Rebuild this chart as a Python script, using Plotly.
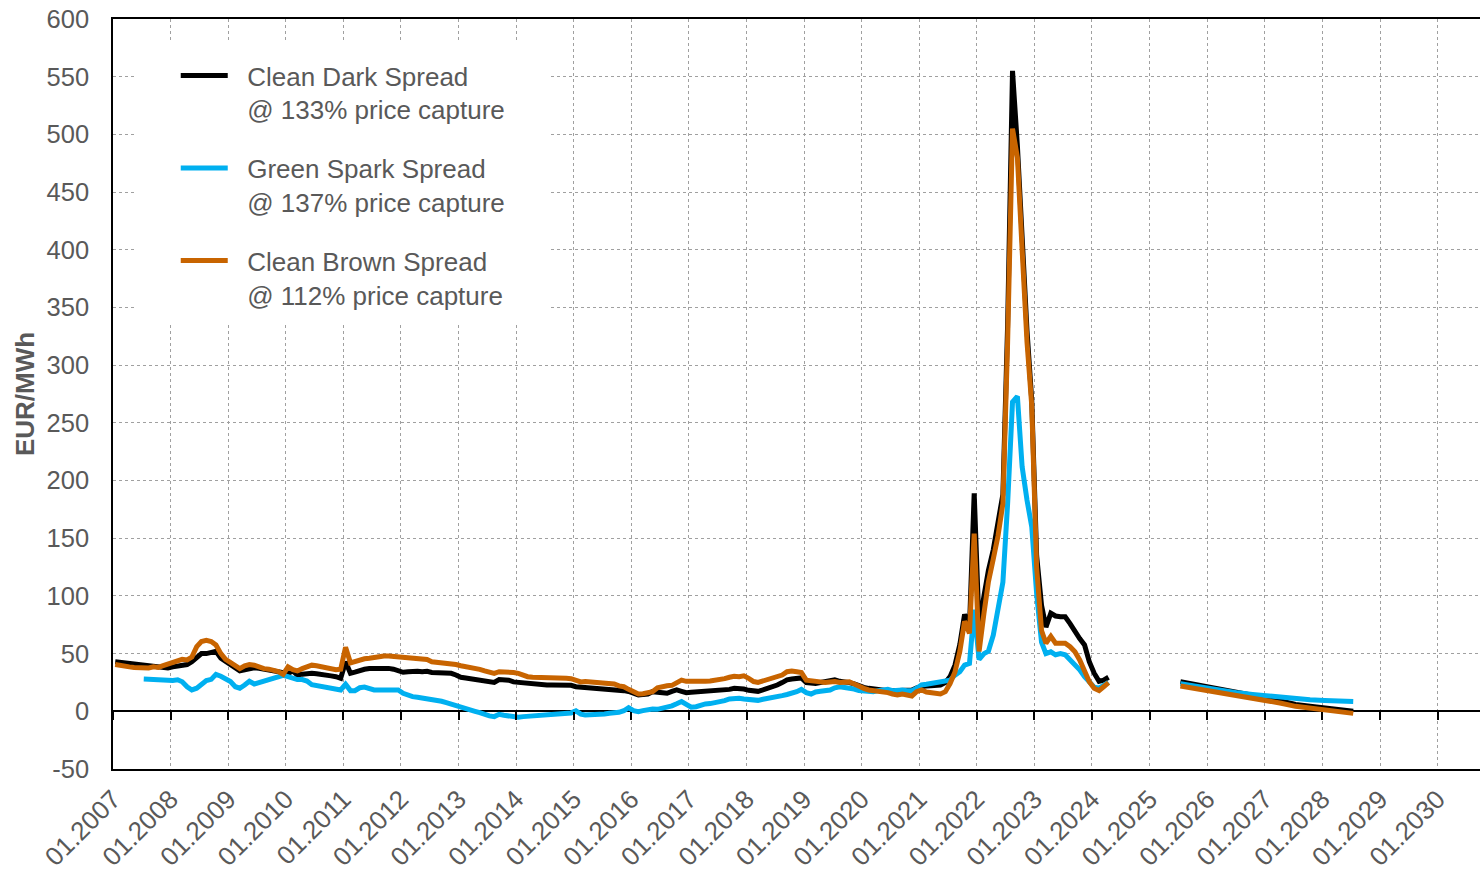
import pandas as pd
import plotly.graph_objects as go

# ---- data -----------------------------------------------------------------
# monthly history Jan 2007 .. Apr 2024 (points plotted mid-month)
hist_months = pd.date_range("2007-01-01", "2024-04-01", freq="MS") + pd.Timedelta(days=14)
# forward curve, quarterly Jul 2025 .. Jul 2028
fwd_quarters = pd.date_range("2025-07-01", "2028-07-01", freq="QS-JAN") + pd.Timedelta(days=14)

dark_hist = [
    43, 42.5, 42.5, 42, 41.5, 41, 40.5, 40, 39, 38, 37.5, 37.5,            # 2007
    38.5, 39, 40, 40.5, 43, 47, 50, 50, 51, 52, 46, 43,                    # 2008
    40, 37, 35, 36, 37.2, 37.7, 37.2, 36.4, 35.8, 35, 34.3, 33.6,          # 2009
    32.9, 35, 31.5, 32.2, 32.9, 32.9, 32.5, 32.2, 31.5, 30.7, 30, 28.6,    # 2010
    43, 33, 34, 35.8, 36.4, 37, 37.2, 37.2, 37.2, 37.2, 36.5, 35,          # 2011
    33.8, 34.3, 35, 34.8, 34.3, 34.6, 33.6, 33.6, 33.6, 33.2, 32.9, 31.5,  # 2012
    29.5, 28.8, 28.2, 27.5, 27, 26.6, 25.8, 25, 27.5, 27.5, 27, 25.5,      # 2013
    25, 24.2, 23.8, 23.5, 23, 22.8, 22.8, 22.8, 22.8, 22.8, 22.8, 22.5,    # 2014
    21.3, 21, 20.7, 20.4, 20.2, 19.9, 19.7, 19.4, 19.3, 18.5, 17.9, 17.2,  # 2015
    15.6, 14.2, 14.6, 15, 17, 16.5, 15.9, 15.6, 17.3, 18.5, 17.3, 16.2,    # 2016
    16.5, 16.7, 17, 17.3, 17.6, 17.6, 17.9, 18.5, 19, 19.9, 19.9, 19.3,    # 2017
    18.2, 17.3, 17.3, 18.5, 19.6, 21, 22.8, 24.9, 27.2, 28, 28.6, 28.9,    # 2018
    24.9, 24.2, 24.2, 24.9, 25.8, 26, 27.2, 26, 25.8, 24.9, 23.7, 22,      # 2019
    20.7, 19.9, 19.3, 18.7, 18.2, 17.9, 17.9, 17.9, 17.9, 18.2, 18.5, 20.2,  # 2020
    21.3, 22, 22.2, 22.5, 22.8, 24.9, 30, 40, 58, 84, 73, 189,             # 2021
    73, 100, 122, 140, 162, 188, 335, 555, 490, 410, 330, 270,             # 2022
    135, 92, 73, 85, 82.6, 82, 82, 76, 69, 63, 57.5, 43,                   # 2023
    33, 26, 27, 29.5,                                                      # 2024
]

spark_hist = [
    None, None, None, None, None, None, 28, 27.7, 27.7, 27, 26.8, 26.8,    # 2007
    26.8, 27.3, 25.6, 21.3, 18.5, 20, 23.4, 26.6, 27.7, 32, 30.4, 27.7,    # 2008
    25.8, 21.3, 20, 22.8, 26, 23.7, 24.9, 26.2, 28.3, 29.1, 30, 31.2,      # 2009
    30, 28.3, 27.5, 27.5, 26.2, 23, 22.2, 21.9, 21, 20.2, 19.3, 18.5,      # 2010
    23.4, 17.9, 17.9, 20.4, 21, 19.6, 18.5, 18.5, 18.7, 19, 19.3, 18.5,    # 2011
    15.6, 13.6, 12.7, 12.2, 11.6, 11, 10.5, 9.8, 8.7, 7.5, 6.4, 5,         # 2012
    3.5, 2.6, 1.7, 0, -1.2, -2.9, -4, -4.6, -2.6, -3.4, -4.3, -4.9,        # 2013
    -5.2, -4.6, -4.3, -4.3, -4, -3.8, -3.5, -3.2, -2.6, -2.9, -2.6, -1.4,  # 2014
    0.4, -2.4, -3.2, -3.2, -2.9, -2.6, -2.4, -1.7, -1.7, -0.9, 0.5, 3.2,   # 2015
    0.5, -0.3, 0.6, 1.7, 2, 1.7, 2.6, 3.5, 4.7, 6.5, 8.5, 6,               # 2016
    3.5, 4, 5.5, 6.4, 6.7, 7.2, 7.8, 9.2, 10.7, 11.3, 11.3, 10.7,          # 2017
    10, 9.2, 9.5, 10.4, 11, 12.2, 13, 13.6, 14.6, 15.6, 17, 19,            # 2018
    16.2, 15, 16.7, 17.3, 17.9, 18.5, 20.4, 21.3, 20.7, 20.2, 19.3, 17.9,  # 2019
    17.3, 17, 17, 17.9, 18.7, 19, 17.9, 18.5, 18.5, 17.9, 17.9, 19.9,      # 2020
    22.8, 23.4, 24.2, 24.9, 25.5, 26.2, 27, 31.4, 34.3, 40, 41.5, 88,      # 2021
    45, 50, 52, 66, 91, 112, 180, 268, 273, 212, 183, 160,                 # 2022
    102, 60, 50, 51.5, 49, 50, 49, 45, 40, 36, 30, 25,                     # 2023
    21, 20, 22, 25,                                                        # 2024
]

brown_hist = [
    40.5, 39.5, 39, 38.5, 38, 37.5, 37.2, 37.5, 38.5, 38, 39.5, 41,        # 2007
    42, 43, 45, 44.5, 47, 56, 60.5, 61.5, 60.5, 57.5, 50, 45,              # 2008
    42, 38.5, 37, 39.5, 40.5, 40, 38, 37, 36.5, 35.5, 34.5, 32,            # 2009
    38.5, 36, 35, 37, 39, 40, 39.5, 38.5, 37.5, 37, 36, 36.5,              # 2010
    55.5, 42, 43, 45, 45.5, 46, 47, 47.5, 48, 48, 47.5, 47,                # 2011
    46.7, 45.8, 45.8, 45.5, 44.5, 44.9, 43, 42.7, 42, 41.5, 41.2, 40.5,    # 2012
    39.5, 38.9, 38.3, 37.2, 36.4, 35, 33.9, 32.9, 34.3, 34.3, 34, 33.6,    # 2013
    32.9, 31.2, 30, 29.5, 29.5, 29.5, 29.5, 29.5, 29.5, 29, 28.6, 28.3,    # 2014
    27, 25.5, 25.8, 25.5, 25.5, 25.2, 25, 24.2, 23.7, 22, 21.3, 19,        # 2015
    17, 15, 15.3, 15.9, 17, 20.4, 21.6, 22.2, 22.5, 24.9, 27, 26,          # 2016
    25.8, 25.8, 25.8, 26, 26.2, 26.6, 27, 28.3, 29.5, 30.3, 30, 30.7,      # 2017
    28.6, 25.8, 25, 26.2, 27, 28.3, 29.5, 31.4, 34.3, 35, 34.3, 33.6,      # 2018
    27, 26.2, 25.8, 25.5, 25, 25.5, 25.8, 25, 25.5, 25.5, 23.7, 21.3,      # 2019
    19.9, 18.5, 18.2, 17.9, 17.3, 16.2, 15, 14.2, 15, 14.6, 13.3, 17,      # 2020
    18.5, 16.7, 16.2, 15, 15, 17, 24, 34, 52, 78, 67.6, 154,               # 2021
    52, 85, 112, 132, 152, 180, 320, 505, 480, 400, 320, 265,              # 2022
    125, 70, 59, 65, 59, 59, 59, 56, 51.6, 44.5, 34.3, 25.6,               # 2023
    19.9, 17.9, 21.3, 24.8,                                                # 2024
]

dark_fwd = [25.7, 23.5, 21.0, 18.5, 16.0, 13.8, 11.5, 9.0, 6.0, 4.3, 2.8, 1.3, 0.0]
spark_fwd = [24.0, 21.8, 19.8, 17.8, 16.0, 14.6, 13.2, 12.0, 10.8, 10.0, 9.4, 8.9, 8.5]
brown_fwd = [22.0, 20.0, 17.8, 15.6, 13.5, 11.4, 9.3, 7.0, 4.3, 2.5, 0.8, -0.6, -1.8]

series_names = [
    ["Clean Dark Spread", "@ 133% price capture"],
    ["Green Spark Spread", "@ 137% price capture"],
    ["Clean Brown Spread", "@ 112% price capture"],
]
series_colors = ["#000000", "#00B0F0", "#C86400"]

year_ticks = pd.date_range("2007-01-01", "2030-01-01", freq="YS")
x_tick_labels = [d.strftime("%m.%Y") for d in year_ticks]

y_tick_vals = [-50, 0, 50, 100, 150, 200, 250, 300, 350, 400, 450, 500, 550, 600]
y_tick_labels = ["-50", "0", "50", "100", "150", "200", "250", "300",
                 "350", "400", "450", "500", "550", "600"]

# ---- figure ---------------------------------------------------------------
gap_date = pd.Timestamp("2025-01-01")
x_all = list(hist_months) + [gap_date] + list(fwd_quarters)

pad = "\u00a0\u00a0"  # small indent between legend key and text

fig = go.Figure()
for name, color, hist, fwd, grp in zip(
    series_names, series_colors,
    [dark_hist, spark_hist, brown_hist],
    [dark_fwd, spark_fwd, brown_fwd],
    ["dark", "spark", "brown"],
):
    fig.add_trace(go.Scatter(
        x=x_all, y=list(hist) + [None] + list(fwd),
        mode="lines", name="<br>".join(pad + part for part in name),
        legendgroup=grp,
        line=dict(color=color, width=5),
        connectgaps=False,
    ))

# helper trace so the zero-crossing tick axis is rendered
fig.add_trace(go.Scatter(x=[year_ticks[0]], y=[None], xaxis="x2",
                         showlegend=False, hoverinfo="skip"))

grid_col = "#a0a0a0"
text_col = "#595959"
x_range = ["2007-01-01", "2030-09-27"]

fig.update_layout(
    width=1480, height=873,
    margin=dict(l=113, r=0, t=19, b=104),
    paper_bgcolor="white", plot_bgcolor="white",
    font=dict(family="Liberation Sans, Arial, sans-serif", size=26, color=text_col),
    legend=dict(
        x=0.0459, y=0.956, xanchor="left", yanchor="top",
        bgcolor="rgba(255,255,255,0)", font=dict(size=26, color=text_col),
        traceorder="grouped", tracegroupgap=22, itemwidth=47, valign="top",
    ),
    # white panel behind the legend
    shapes=[dict(
        type="rect", xref="paper", yref="paper",
        x0=0.0161, x1=0.3197, y0=0.592, y1=0.968,
        fillcolor="white", line=dict(width=0), layer="above",
    )],
    xaxis=dict(
        type="date", range=x_range,
        tickvals=year_ticks, ticktext=x_tick_labels, tickangle=-45,
        tickfont=dict(size=26, color=text_col), ticklabelstandoff=3,
        showgrid=True, gridcolor=grid_col, griddash="dot", gridwidth=1,
        showline=True, linecolor="black", linewidth=1.5, mirror=True,
        ticks="", zeroline=False,
    ),
    xaxis2=dict(
        type="date", range=x_range, overlaying="x", anchor="free",
        position=50 / 650, side="bottom",
        tickvals=year_ticks, ticks="outside", ticklen=8, tickwidth=1.5,
        tickcolor="black", showticklabels=False, showgrid=False,
        showline=False, zeroline=False,
    ),
    yaxis=dict(
        range=[-50, 600], tickvals=y_tick_vals, ticktext=y_tick_labels,
        tickfont=dict(size=25.5, color=text_col),
        showgrid=True, gridcolor=grid_col, griddash="dot", gridwidth=1,
        showline=True, linecolor="black", linewidth=1.5,
        zeroline=True, zerolinecolor="black", zerolinewidth=1.5,
        ticks="", ticklabelstandoff=17,
        title=dict(text="<b>EUR/MWh</b>", font=dict(size=26, color=text_col), standoff=5),
    ),
)

fig.write_html("out.html")
